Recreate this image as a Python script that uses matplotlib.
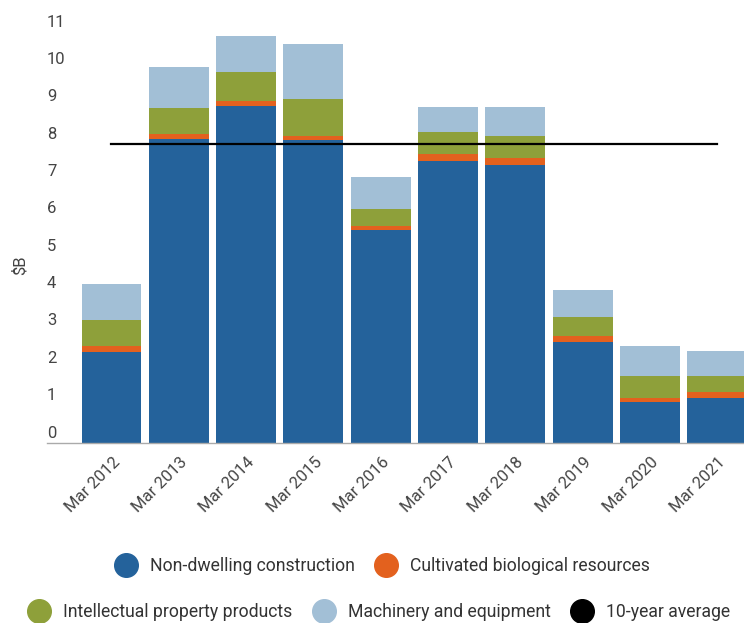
import matplotlib
matplotlib.use("Agg")
import matplotlib.pyplot as plt
from matplotlib.lines import Line2D
from matplotlib.transforms import offset_copy, ScaledTranslation

plt.rcParams['font.family'] = ['Roboto', 'DejaVu Sans']

# data, $B
years = ["Mar 2012", "Mar 2013", "Mar 2014", "Mar 2015", "Mar 2016",
         "Mar 2017", "Mar 2018", "Mar 2019", "Mar 2020", "Mar 2021"]
non_dwelling = [2.43, 8.13, 9.02, 8.11, 5.70, 7.54, 7.43, 2.71, 1.09, 1.20]
cultivated   = [0.17, 0.14, 0.14, 0.11, 0.11, 0.20, 0.20, 0.15, 0.11, 0.17]
intellectual = [0.69, 0.71, 0.78, 0.99, 0.45, 0.58, 0.59, 0.52, 0.59, 0.42]
machinery    = [0.97, 1.09, 0.96, 1.47, 0.87, 0.68, 0.78, 0.72, 0.82, 0.68]
ten_year_avg = 8.0

names = ["Non-dwelling construction", "Cultivated biological resources",
         "Intellectual property products", "Machinery and equipment", "10-year average"]
colors = ["#24629b", "#e3611e", "#8ea03a", "#a2bfd6", "#000000"]

fig = plt.figure(figsize=(7.44, 6.23), dpi=100)
ax = fig.add_axes([47/744, 180/623, 697/744, 443/623])

x = list(range(len(years)))
bottom = [0.0] * len(years)
for vals, c in zip([non_dwelling, cultivated, intellectual, machinery], colors):
    ax.bar(x, vals, width=0.89, bottom=bottom, color=c, linewidth=0)
    bottom = [b + v for b, v in zip(bottom, vals)]

ax.plot([x[0], x[-1]], [ten_year_avg, ten_year_avg], color="black", lw=1.6)

ax.set_xlim(-0.958, 9.399)
ax.set_ylim(0, 11.86)

for s in ["top", "right", "left"]:
    ax.spines[s].set_visible(False)
ax.spines["bottom"].set_color("#aaaaaa")
ax.spines["bottom"].set_linewidth(1)

# y labels sit just above their value, inside the plot area
ax.set_yticks([])
lab_tr = offset_copy(ax.get_yaxis_transform(), fig=fig, x=0, y=10, units='dots')
for v in range(12):
    ax.text(0.0, v, str(v), transform=lab_tr, ha="left", va="center",
            fontsize=12, color="#444444")
fig.text(20/744, 1 - 265/623, "$B", rotation=90, ha="center", va="center",
         fontsize=12, color="#444444")

ax.set_xticks(x)
ax.set_xticklabels(years, rotation=45, ha="right", va="center",
                   rotation_mode="anchor", fontsize=12, color="#444444")
ax.tick_params(axis="x", length=0, pad=12)
shift = ScaledTranslation(6/100, 0, fig.dpi_scale_trans)
for lab in ax.get_xticklabels():
    lab.set_transform(lab.get_transform() + shift)

def handle(c):
    return Line2D([], [], marker="o", ls="", color=c, markersize=17)

leg_kw = dict(frameon=False, fontsize=12.7, handletextpad=0.35, columnspacing=0.8,
              loc="center", labelcolor="#333333")
fig.legend([handle(c) for c in colors[:2]], names[:2], ncol=2,
           bbox_to_anchor=(379/744, 1 - 566/623), **leg_kw)
fig.legend([handle(c) for c in colors[2:]], names[2:], ncol=3,
           bbox_to_anchor=(376/744, 1 - 612/623), **leg_kw)

fig.savefig("out.png", dpi=100)
